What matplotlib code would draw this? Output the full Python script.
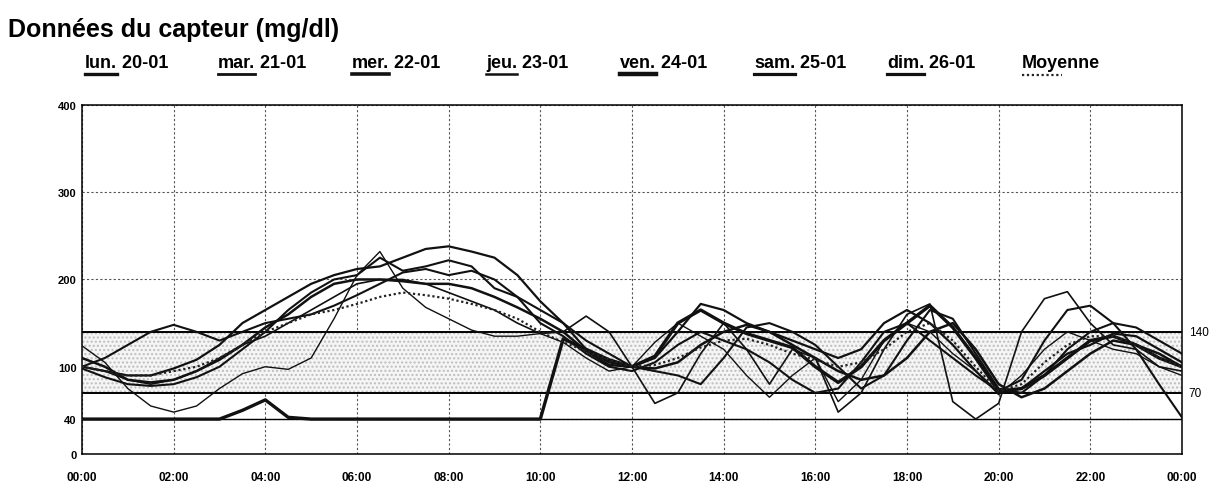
import numpy as np
import matplotlib
matplotlib.use("Agg")
import matplotlib.pyplot as plt
from matplotlib.lines import Line2D

plt.rcParams['font.family'] = ['Liberation Sans', 'DejaVu Sans']

# half-hour readings, 00:00 -> 24:00
hours = np.arange(0, 24.01, 0.5)

lun = [100, 95, 90, 90, 98, 108, 125, 150, 165, 180, 195, 205, 212, 215, 225, 235, 238,
       232, 225, 205, 175, 150, 120, 105, 100, 110, 140, 172, 165, 150, 140, 130, 120,
       110, 120, 150, 165, 150, 125, 95, 70, 75, 95, 115, 125, 138, 135, 120, 105]
mar = [100, 95, 85, 80, 85, 95, 110, 125, 135, 150, 165, 180, 195, 200, 200, 195, 185,
       175, 165, 150, 138, 140, 158, 140, 100, 58, 70, 115, 150, 120, 80, 120, 110,
       48, 70, 120, 160, 172, 60, 40, 58, 140, 178, 186, 150, 125, 120, 100, 95]
mer = [110, 100, 85, 82, 85, 95, 108, 125, 145, 160, 180, 195, 200, 200, 198, 195, 195,
       190, 180, 168, 155, 140, 118, 102, 100, 98, 105, 125, 140, 148, 140, 125, 110,
       95, 85, 90, 110, 140, 150, 120, 80, 65, 75, 95, 115, 130, 125, 115, 100]
jeu = [124, 105, 75, 55, 48, 55, 75, 92, 100, 97, 110, 155, 205, 232, 190, 168, 155,
       142, 135, 135, 138, 128, 110, 95, 100, 128, 150, 135, 120, 90, 65, 90, 110,
       60, 85, 130, 150, 140, 115, 95, 68, 90, 120, 140, 130, 120, 115, 100, 90]
ven = [40, 40, 40, 40, 40, 40, 40, 50, 62, 42, 40, 40, 40, 40, 40, 40, 40,
       40, 40, 40, 40, 132, 120, 108, 100, 112, 150, 165, 150, 138, 130, 122, 100,
       82, 100, 130, 150, 170, 145, 110, 72, 75, 90, 110, 130, 135, 125, 110, 100]
sam = [98, 88, 80, 78, 80, 88, 100, 120, 140, 165, 185, 200, 205, 225, 210, 215, 222,
       215, 190, 180, 165, 150, 130, 115, 100, 95, 90, 80, 110, 145, 150, 140, 125,
       100, 75, 90, 130, 165, 155, 115, 75, 70, 90, 120, 140, 150, 145, 130, 115]
dim = [100, 110, 125, 140, 148, 140, 130, 140, 150, 155, 160, 170, 182, 195, 208, 212, 205,
       210, 200, 180, 150, 135, 115, 100, 95, 105, 125, 140, 130, 120, 105, 85, 70,
       75, 105, 140, 150, 130, 110, 90, 72, 85, 130, 165, 170, 150, 120, 80, 42]
moyenne = [100, 95, 90, 90, 95, 100, 110, 125, 140, 150, 160, 165, 172, 180, 185, 182, 178,
           172, 165, 155, 140, 128, 118, 108, 100, 102, 110, 122, 130, 132, 125, 115, 108,
           100, 105, 120, 140, 150, 130, 100, 72, 80, 105, 125, 135, 135, 125, 110, 100]

days = ['lun.', 'mar.', 'mer.', 'jeu.', 'ven.', 'sam.', 'dim.']
dates = ['20-01', '21-01', '22-01', '23-01', '24-01', '25-01', '26-01']
series = [lun, mar, mer, jeu, ven, sam, dim]
widths = [1.6, 1.2, 1.8, 1.0, 2.4, 1.5, 1.5]

yticks = [0, 40, 100, 200, 300, 400]
xlabels = ['00:00', '02:00', '04:00', '06:00', '08:00', '10:00', '12:00',
           '14:00', '16:00', '18:00', '20:00', '22:00', '00:00']

fig = plt.figure(figsize=(12.18, 4.85), dpi=100)
ax = fig.add_axes([0.0673, 0.0619, 0.9031, 0.7196])

# target band
ax.axhspan(70, 140, facecolor='#f5f5f5', edgecolor='#bdbdbd', hatch='....', linewidth=0)
for lvl, lw in [(140, 1.4), (70, 1.4), (40, 1.0)]:
    ax.axhline(lvl, color='black', lw=lw, zorder=2)

for vals, w in zip(series, widths):
    ax.plot(hours, vals, color='#111111', lw=w, zorder=3)
ax.plot(hours, moyenne, color='#222222', lw=1.6, ls=(0, (1, 1.2)), zorder=3)

ax.set_xlim(0, 24)
ax.set_ylim(0, 400)
ax.set_xticks(range(0, 25, 2))
ax.set_xticklabels(xlabels)
ax.set_yticks(yticks)
ax.tick_params(axis='y', length=0, labelsize=8, pad=4)
ax.tick_params(axis='x', length=0, labelsize=8.5, pad=12)
for lbl in ax.get_yticklabels() + ax.get_xticklabels():
    lbl.set_fontweight('bold')
ax.grid(True, color='#555555', lw=0.8, ls=(0, (2, 2)), zorder=1)
ax.set_axisbelow(True)
for sp in ax.spines.values():
    sp.set_linewidth(1.1)

ax.text(24.15, 140, '140', fontsize=8.5, va='center', ha='left')
ax.text(24.15, 70, '70', fontsize=8.5, va='center', ha='left')

fig.text(8 / 1218, 1 - 30 / 485, 'Données du capteur (mg/dl)', fontsize=18,
         fontweight='bold', va='center', ha='left')

# legend row
leg_x = [85, 218, 352, 486, 620, 754, 887]
leg_y = 1 - 64 / 485
fig.canvas.draw()
renderer = fig.canvas.get_renderer()
W, H = fig.bbox.width, fig.bbox.height
for x, d, dt, w in zip(leg_x, days, dates, widths):
    t = fig.text(x / W, leg_y, d, fontsize=13, fontweight='bold', va='center')
    bb = t.get_window_extent(renderer)
    fig.text(bb.x1 / W, leg_y, ' ' + dt, fontsize=13, fontweight='bold', va='center')
    yl = (H - 75) / H
    fig.add_artist(Line2D([bb.x0 / W, bb.x1 / W], [yl, yl], color='#111111',
                          lw=w + 0.8, transform=fig.transFigure))
t = fig.text(1022 / W, leg_y, 'Moyenne', fontsize=13, fontweight='bold', va='center')
bb = t.get_window_extent(renderer)
yl = (H - 76) / H
fig.add_artist(Line2D([bb.x0 / W, (bb.x0 + 40) / W], [yl, yl], color='#222222',
                      lw=1.6, ls=(0, (1, 1.2)), transform=fig.transFigure))

fig.savefig('out.png', dpi=100)
